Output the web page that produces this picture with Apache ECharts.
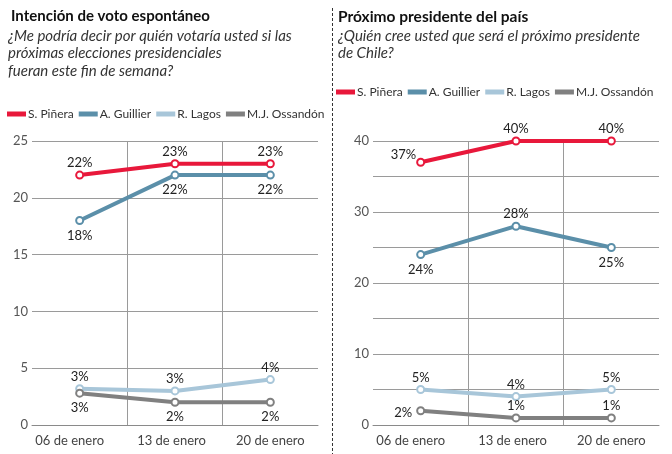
<!DOCTYPE html>
<html>
<head>
<meta charset="utf-8">
<script src="https://cdn.jsdelivr.net/npm/echarts@6/dist/echarts.min.js"></script>
<style>
html,body{margin:0;padding:0;background:#fff;}
#c{width:672px;height:454px;}
</style>
</head>
<body>
<div id="c"></div>
<script>
// ---- Data ----
const categories = ['06 de enero', '13 de enero', '20 de enero'];
const seriesNames = ['S. Piñera', 'A. Guillier', 'R. Lagos', 'M.J. Ossandón'];

// Left: Intención de voto espontáneo
const votoPinera = [22, 23, 23];
const votoGuillier = [18, 22, 22];
const votoLagos = [3.2, 3, 4];
const votoOssandon = [2.8, 2, 2];

// Right: Próximo presidente del país
const presPinera = [37, 40, 40];
const presGuillier = [24, 28, 25];
const presLagos = [5, 4, 5];
const presOssandon = [2, 1, 1];

const votoTicks = [0, 5, 10, 15, 20, 25];
const presTicks = [0, 10, 20, 30, 40];

const leftTitle = 'Intención de voto espontáneo';
const leftSub = '¿Me podría decir por quién votaría usted si las\npróximas elecciones presidenciales\nfueran este fin de semana?';
const rightTitle = 'Próximo presidente del país';
const rightSub = '¿Quién cree usted que será el próximo presidente\nde Chile?';

// ---- Styles ----
const colors = ['#e8183b', '#5b8fa9', '#a8c6d9', '#808080'];
const FONT = 'Lato';

const labelPositions = {
  left: [
    ['top', 'top', 'top'],
    ['bottom', 'bottom', 'bottom'],
    ['top', 'top', 'top'],
    ['bottom', 'bottom', 'bottom']
  ],
  right: [
    ['leftUp', 'top', 'top'],
    ['bottom', 'top', 'bottom'],
    ['top', 'top', 'top'],
    ['left', 'top', 'top']
  ]
};

function labelCfg(p) {
  if (p === 'top') return { position: 'top', distance: 1 };
  if (p === 'bottom') return { position: 'bottom', distance: 4 };
  if (p === 'leftUp') return { position: 'left', distance: 0, offset: [0, -7] };
  return { position: 'left', distance: 4, offset: [0, 2] };
}

function mkSeries(idx, vals, gridIdx, side) {
  const c = colors[idx];
  return {
    type: 'line',
    name: seriesNames[idx],
    xAxisIndex: gridIdx,
    yAxisIndex: gridIdx,
    color: c,
    data: vals.map((v, i) => ({ value: v, label: labelCfg(labelPositions[side][idx][i]) })),
    lineStyle: { width: 4, color: c },
    symbol: 'emptyCircle',
    symbolSize: 7,
    itemStyle: { color: c, borderWidth: 2 },
    label: {
      show: true,
      formatter: p => Math.round(p.value) + '%',
      fontFamily: FONT,
      fontSize: 13,
      color: '#222'
    },
    z: 2 + idx,
    animation: false
  };
}

function mkX(gridIdx) {
  return {
    type: 'category',
    gridIndex: gridIdx,
    data: categories,
    boundaryGap: true,
    axisLine: { show: true, lineStyle: { color: '#8a8a8a', width: 1 } },
    axisTick: { show: false },
    axisLabel: {
      interval: 0,
      hideOverlap: false,
      color: '#444', fontFamily: FONT, fontSize: 13, margin: 9,
      formatter: (v, i) => (i === 0 ? '{a|' + v + '}' : i === 1 ? '{b|' + v + '}' : v),
      rich: {
        a: { color: '#444', fontFamily: FONT, fontSize: 13, padding: [0, 20, 0, 0] },
        b: { color: '#444', fontFamily: FONT, fontSize: 13, padding: [0, 7, 0, 0] }
      }
    },
    splitLine: { show: true, interval: 0, showMinLine: false, showMaxLine: false, lineStyle: { color: '#9a9a9a', width: 1 } }
  };
}

function mkY(gridIdx, ticks) {
  return {
    type: 'value',
    gridIndex: gridIdx,
    min: 0,
    max: ticks[ticks.length - 1],
    interval: 5,
    axisLine: { show: false },
    axisTick: { show: false },
    axisLabel: {
      color: '#555', fontFamily: FONT, fontSize: 13, margin: 4,
      formatter: v => (ticks.indexOf(v) >= 0 ? String(v) : '')
    },
    splitLine: { show: true, lineStyle: { color: '#9a9a9a', width: 1 } }
  };
}

function mkLegend(left, top) {
  return {
    left: left, top: top,
    icon: 'rect',
    itemWidth: 19, itemHeight: 5,
    itemGap: 5,
    padding: 0,
    data: seriesNames,
    selectedMode: false,
    textStyle: { fontFamily: FONT, fontSize: 12, color: '#333', padding: [0, 0, 0, -3] }
  };
}

const chart = echarts.init(document.getElementById('c'), null, { renderer: 'canvas' });
chart.setOption({
  animation: false,
  backgroundColor: '#fff',
  grid: [
    { left: 32, right: 354, top: 141, bottom: 29, containLabel: false },
    { left: 373, right: 13, top: 141, bottom: 29, containLabel: false }
  ],
  xAxis: [mkX(0), mkX(1)],
  yAxis: [mkY(0, votoTicks), mkY(1, presTicks)],
  legend: [mkLegend(7, 108), mkLegend(336, 86)],
  series: [
    mkSeries(0, votoPinera, 0, 'left'),
    mkSeries(1, votoGuillier, 0, 'left'),
    mkSeries(2, votoLagos, 0, 'left'),
    mkSeries(3, votoOssandon, 0, 'left'),
    mkSeries(0, presPinera, 1, 'right'),
    mkSeries(1, presGuillier, 1, 'right'),
    mkSeries(2, presLagos, 1, 'right'),
    mkSeries(3, presOssandon, 1, 'right')
  ],
  graphic: [
    { type: 'text', left: 11, top: 9, style: { text: leftTitle, fontFamily: FONT, fontSize: 15, fontWeight: 'bold', fill: '#111' } },
    { type: 'text', left: 8, top: 27, style: { text: leftSub, fontFamily: FONT, fontSize: 15, fontStyle: 'italic', lineHeight: 17.5, fill: '#333' } },
    { type: 'text', left: 338, top: 9, style: { text: rightTitle, fontFamily: FONT, fontSize: 15.5, fontWeight: 'bold', fill: '#111' } },
    { type: 'text', left: 338, top: 27, style: { text: rightSub, fontFamily: FONT, fontSize: 15, fontStyle: 'italic', lineHeight: 17.5, fill: '#333' } },
    { type: 'line', shape: { x1: 332.5, y1: 8, x2: 332.5, y2: 454 }, style: { stroke: '#333', lineWidth: 1, lineDash: [3, 2] } }
  ]
});
</script>
</body>
</html>
